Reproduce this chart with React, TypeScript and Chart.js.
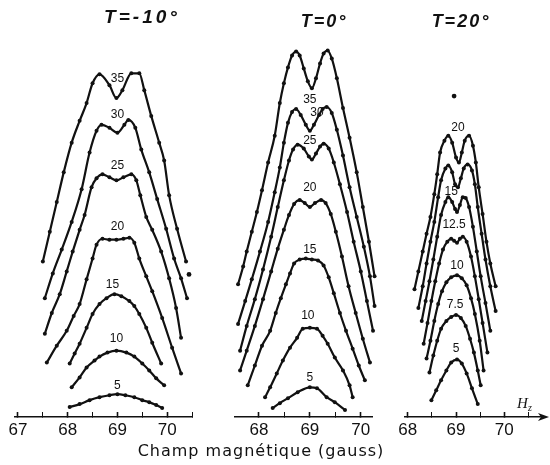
import React, { useEffect, useRef } from 'react';
import { Chart, registerables } from 'chart.js';

Chart.register(...registerables);

// ---------- T = -10° (field in gauss, signal in arbitrary stacked units) ----------
const A35_H = [67.50, 67.64, 67.78, 67.92, 68.08, 68.24, 68.38, 68.50, 68.64, 68.84, 68.98, 69.10, 69.28, 69.44, 69.54, 69.68, 69.84, 69.94, 70.04, 70.20, 70.38];
const A35_V = [157, 187, 217, 247, 277, 299, 317, 337, 346, 335, 322, 330, 347, 347, 330, 304, 277, 259, 224, 190, 157];
const A30_H = [67.54, 67.70, 67.88, 68.08, 68.28, 68.44, 68.58, 68.68, 68.84, 69.00, 69.14, 69.22, 69.36, 69.48, 69.64, 69.80, 69.98, 70.14, 70.28, 70.40];
const A30_V = [120, 145, 169, 197, 230, 267, 289, 295, 292, 287, 295, 300, 292, 270, 247, 220, 190, 160, 140, 120];
const A25_H = [67.54, 67.68, 67.84, 67.98, 68.10, 68.24, 68.34, 68.48, 68.58, 68.70, 68.84, 68.98, 69.12, 69.28, 69.38, 69.46, 69.58, 69.70, 69.88, 70.04, 70.18, 70.28];
const A25_V = [84, 105, 124, 147, 167, 189, 204, 232, 241, 245, 242, 239, 242, 245, 239, 224, 202, 189, 167, 140, 110, 80];
const A20_H = [67.58, 67.78, 67.98, 68.12, 68.24, 68.38, 68.50, 68.58, 68.70, 68.84, 68.98, 69.12, 69.24, 69.34, 69.44, 69.58, 69.70, 69.90, 70.10, 70.28];
const A20_V = [55, 72, 87, 102, 114, 139, 160, 174, 180, 179, 179, 180, 181, 176, 160, 142, 127, 100, 70, 44];
const A15_H = [68.04, 68.14, 68.24, 68.38, 68.50, 68.64, 68.78, 68.94, 69.08, 69.24, 69.34, 69.44, 69.58, 69.70, 69.88];
const A15_V = [54, 64, 74, 90, 104, 114, 120, 124, 122, 117, 112, 104, 90, 75, 54];
const A10_H = [68.08, 68.24, 68.38, 68.54, 68.64, 68.80, 68.98, 69.18, 69.34, 69.50, 69.64, 69.78, 69.94];
const A10_V = [30, 40, 50, 57, 61, 65, 67, 65, 61, 54, 47, 39, 32];
const A5_H = [68.04, 68.24, 68.44, 68.64, 68.84, 69.00, 69.16, 69.34, 69.50, 69.64, 69.78, 69.90];
const A5_V = [10, 13, 17, 20, 22, 23, 22, 20, 17, 15, 12, 9];
const A_LABELS = ['35', '30', '25', '20', '15', '10', '5'];
const A_LABEL_H = [69.00, 69.00, 69.00, 69.00, 68.90, 68.98, 69.00];
const A_LABEL_V = [342, 305, 254, 192, 134, 79, 32];
const A_DOT_H = [70.44];
const A_DOT_V = [144];

// ---------- T = 0° ----------
const B35_H = [67.59, 67.69, 67.76, 67.86, 67.96, 68.06, 68.18, 68.31, 68.41, 68.49, 68.57, 68.65, 68.73, 68.80, 68.88, 68.96, 69.04, 69.12, 69.20, 69.27, 69.35, 69.43, 69.53, 69.65, 69.78, 69.92, 70.04, 70.16, 70.27];
const B35_V = [134, 152, 167, 187, 207, 229, 257, 284, 317, 337, 353, 365, 369, 365, 352, 339, 332, 342, 357, 367, 370, 362, 342, 312, 282, 247, 212, 177, 142];
const B30_H = [67.59, 67.73, 67.86, 68.02, 68.18, 68.31, 68.41, 68.49, 68.57, 68.65, 68.73, 68.82, 68.92, 69.00, 69.08, 69.18, 69.25, 69.33, 69.43, 69.53, 69.65, 69.78, 69.92, 70.06, 70.18, 70.27];
const B30_V = [94, 117, 139, 167, 197, 227, 252, 277, 297, 308, 311, 305, 295, 289, 295, 305, 311, 313, 307, 290, 264, 232, 202, 172, 142, 112];
const B25_H = [67.63, 67.76, 67.92, 68.08, 68.24, 68.37, 68.49, 68.59, 68.67, 68.76, 68.88, 68.98, 69.04, 69.12, 69.20, 69.27, 69.37, 69.47, 69.59, 69.73, 69.86, 70.00, 70.12, 70.24];
const B25_V = [67, 92, 119, 149, 182, 212, 239, 259, 270, 275, 271, 263, 260, 266, 273, 276, 271, 257, 235, 207, 177, 147, 117, 87];
const B20_H = [67.63, 67.76, 67.92, 68.08, 68.24, 68.37, 68.49, 68.59, 68.69, 68.80, 68.90, 69.00, 69.10, 69.22, 69.31, 69.41, 69.51, 69.63, 69.76, 69.90, 70.04, 70.18];
const B20_V = [47, 67, 92, 119, 147, 170, 189, 204, 215, 219, 216, 212, 216, 219, 216, 205, 187, 162, 132, 105, 79, 55];
const B15_H = [67.78, 67.92, 68.06, 68.22, 68.33, 68.43, 68.53, 68.61, 68.69, 68.80, 68.92, 69.04, 69.16, 69.27, 69.37, 69.47, 69.59, 69.71, 69.84, 69.96, 70.08];
const B15_V = [32, 52, 72, 87, 105, 120, 134, 145, 155, 159, 160, 159, 158, 153, 141, 125, 105, 87, 69, 52, 37];
const B10_H = [68.12, 68.22, 68.35, 68.47, 68.61, 68.75, 68.86, 69.00, 69.14, 69.25, 69.35, 69.49, 69.65, 69.78, 69.84];
const B10_V = [20, 30, 44, 57, 70, 80, 89, 90, 89, 82, 74, 60, 47, 32, 20];
const B5_H = [68.27, 68.41, 68.57, 68.76, 69.00, 69.14, 69.33, 69.49, 69.69];
const B5_V = [9, 14, 19, 25, 30, 29, 20, 15, 7];
const B_LABELS = ['35', '30', '25', '20', '15', '10', '5'];
const B_LABEL_H = [69.00, 69.14, 69.00, 69.00, 69.00, 68.96, 69.00];
const B_LABEL_V = [320, 307, 279, 232, 169, 102, 40];
const B_DOT_H: number[] = [];
const B_DOT_V: number[] = [];

// ---------- T = 20° ----------
const C20_H = [68.14, 68.22, 68.31, 68.39, 68.47, 68.55, 68.61, 68.67, 68.76, 68.84, 68.92, 69.00, 69.06, 69.12, 69.18, 69.27, 69.35, 69.41, 69.47, 69.55, 69.63, 69.71, 69.82];
const C20_V = [129, 147, 167, 185, 202, 225, 245, 267, 279, 284, 277, 262, 257, 267, 279, 284, 274, 257, 232, 205, 177, 155, 132];
const C17_H = [68.22, 68.31, 68.39, 68.47, 68.55, 68.63, 68.69, 68.78, 68.84, 68.92, 68.98, 69.04, 69.10, 69.16, 69.24, 69.33, 69.39, 69.45, 69.53, 69.61, 69.71, 69.82];
const C17_V = [110, 132, 155, 177, 197, 222, 239, 251, 254, 247, 235, 232, 241, 251, 255, 249, 235, 212, 185, 159, 132, 107];
const C15_H = [68.29, 68.37, 68.45, 68.53, 68.61, 68.69, 68.78, 68.84, 68.92, 68.98, 69.02, 69.08, 69.14, 69.20, 69.27, 69.35, 69.43, 69.51, 69.61, 69.71];
const C15_V = [97, 117, 137, 159, 182, 204, 217, 222, 217, 210, 207, 214, 222, 221, 212, 192, 167, 142, 115, 87];
const C12_H = [68.33, 68.41, 68.49, 68.57, 68.65, 68.73, 68.82, 68.90, 68.96, 69.02, 69.08, 69.14, 69.22, 69.31, 69.39, 69.47, 69.55, 69.65];
const C12_V = [74, 95, 117, 137, 155, 169, 177, 180, 178, 176, 180, 182, 177, 162, 142, 119, 95, 65];
const C10_H = [68.39, 68.47, 68.55, 68.63, 68.71, 68.80, 68.90, 69.02, 69.12, 69.22, 69.31, 69.39, 69.49, 69.57];
const C10_V = [59, 77, 97, 114, 127, 136, 141, 143, 140, 133, 120, 104, 77, 47];
const C7_H = [68.45, 68.53, 68.61, 68.69, 68.80, 68.90, 69.00, 69.10, 69.20, 69.29, 69.37, 69.45, 69.51];
const C7_V = [45, 62, 77, 89, 97, 101, 103, 100, 92, 79, 65, 47, 32];
const C5_H = [68.49, 68.59, 68.69, 68.80, 68.90, 69.02, 69.12, 69.22, 69.33, 69.45];
const C5_V = [17, 27, 37, 47, 55, 58, 54, 44, 29, 13];
const C_LABELS = ['20', '15', '12.5', '10', '7.5', '5'];
const C_LABEL_H = [69.04, 68.90, 68.96, 69.02, 68.98, 69.00];
const C_LABEL_V = [292, 227, 194, 153, 113, 69];
const C_DOT_H = [68.96];
const C_DOT_V = [324];

// axis ranges (gauss)
const A_RANGE = [66.94, 70.5];
const B_RANGE = [67.53, 70.22];
const C_RANGE = [67.94, 70.78];
const SIGNAL_MAX = 417;

// ---------- layout / style ----------
const INK = '#111111';
const CANVAS_H = 465;
const AXIS_BAND = 48;

type Panel = {
  left: number; width: number; padLeft: number; padRight: number;
  range: number[];
  curves: { h: number[]; v: number[] }[];
  dotH: number[]; dotV: number[];
  labels: string[]; labelH: number[]; labelV: number[];
  arrow: boolean;
};

const PANELS: Panel[] = [
  {
    left: 0, width: 200, padLeft: 15, padRight: 7, range: A_RANGE,
    curves: [
      { h: A35_H, v: A35_V }, { h: A30_H, v: A30_V }, { h: A25_H, v: A25_V }, { h: A20_H, v: A20_V },
      { h: A15_H, v: A15_V }, { h: A10_H, v: A10_V }, { h: A5_H, v: A5_V },
    ],
    dotH: A_DOT_H, dotV: A_DOT_V, labels: A_LABELS, labelH: A_LABEL_H, labelV: A_LABEL_V, arrow: false,
  },
  {
    left: 200, width: 190, padLeft: 35, padRight: 18, range: B_RANGE,
    curves: [
      { h: B35_H, v: B35_V }, { h: B30_H, v: B30_V }, { h: B25_H, v: B25_V }, { h: B20_H, v: B20_V },
      { h: B15_H, v: B15_V }, { h: B10_H, v: B10_V }, { h: B5_H, v: B5_V },
    ],
    dotH: B_DOT_H, dotV: B_DOT_V, labels: B_LABELS, labelH: B_LABEL_H, labelV: B_LABEL_V, arrow: false,
  },
  {
    left: 390, width: 160, padLeft: 13, padRight: 8, range: C_RANGE,
    curves: [
      { h: C20_H, v: C20_V }, { h: C17_H, v: C17_V }, { h: C15_H, v: C15_V }, { h: C12_H, v: C12_V },
      { h: C10_H, v: C10_V }, { h: C7_H, v: C7_V }, { h: C5_H, v: C5_V },
    ],
    dotH: C_DOT_H, dotV: C_DOT_V, labels: C_LABELS, labelH: C_LABEL_H, labelV: C_LABEL_V, arrow: true,
  },
];

const isInt = (v: number) => Math.abs(v - Math.round(v)) < 1e-6;

function decorPlugin(panel: Panel) {
  return {
    id: 'panelDecor',
    afterDatasetsDraw(chart: any) {
      const ctx = chart.ctx as CanvasRenderingContext2D;
      const x = chart.scales.x;
      const y = chart.scales.y;
      ctx.save();
      ctx.fillStyle = INK;
      ctx.font = '12px "Liberation Sans", Arial, sans-serif';
      ctx.textAlign = 'center';
      ctx.textBaseline = 'middle';
      panel.labels.forEach((t, i) => {
        ctx.fillText(t, x.getPixelForValue(panel.labelH[i]), y.getPixelForValue(panel.labelV[i]));
      });
      if (panel.arrow) {
        const yb = chart.chartArea.bottom;
        const xr = chart.chartArea.right;
        const end = chart.width - 1;
        ctx.strokeStyle = INK;
        ctx.lineWidth = 1.6;
        ctx.beginPath();
        ctx.moveTo(xr, yb);
        ctx.lineTo(end - 4, yb);
        ctx.stroke();
        ctx.beginPath();
        ctx.moveTo(end, yb);
        ctx.lineTo(end - 11, yb - 4);
        ctx.lineTo(end - 8, yb);
        ctx.lineTo(end - 11, yb + 4);
        ctx.closePath();
        ctx.fill();
        ctx.textAlign = 'left';
        ctx.textBaseline = 'alphabetic';
        ctx.font = 'italic 15px "Liberation Serif", serif';
        ctx.fillText('H', xr - 25, yb - 9);
        ctx.font = 'italic 10px "Liberation Serif", serif';
        ctx.fillText('z', xr - 14, yb - 6);
      }
      ctx.restore();
    },
  };
}

function PanelChart({ panel }: { panel: Panel }) {
  const ref = useRef<HTMLCanvasElement>(null);
  useEffect(() => {
    if (!ref.current) return;
    const lineSets = panel.curves.map((c) => ({
      data: c.h.map((h, i) => ({ x: h, y: c.v[i] })),
      borderColor: INK,
      borderWidth: 2.2,
      pointRadius: 2,
      pointBackgroundColor: INK,
      pointBorderWidth: 0,
      cubicInterpolationMode: 'monotone',
      clip: false,
      fill: false,
    }));
    const dotSet = {
      data: panel.dotH.map((h, i) => ({ x: h, y: panel.dotV[i] })),
      showLine: false,
      pointRadius: 2.4,
      pointBackgroundColor: INK,
      pointBorderWidth: 0,
      clip: false,
    };
    const chart = new Chart(ref.current, {
      type: 'line',
      data: { datasets: [...lineSets, dotSet] as any },
      options: {
        animation: false,
        responsive: false,
        devicePixelRatio: 1,
        events: [],
        layout: { padding: { left: panel.padLeft, right: panel.padRight, top: 0, bottom: 0 } },
        plugins: { legend: { display: false }, tooltip: { enabled: false }, title: { display: false } },
        scales: {
          x: {
            type: 'linear',
            min: panel.range[0],
            max: panel.range[1],
            afterFit: (s: any) => { s.height = AXIS_BAND; },
            border: { display: true, color: INK, width: 1.6 },
            grid: {
              drawOnChartArea: false,
              drawTicks: true,
              tickLength: -5,
              tickColor: INK,
              tickWidth: (c: any) => (c.tick && isInt(c.tick.value) ? 1.6 : 1),
            },
            ticks: {
              stepSize: 0.5,
              includeBounds: false,
              autoSkip: false,
              maxRotation: 0,
              padding: 8,
              color: INK,
              font: { family: '"Liberation Sans", Arial, sans-serif', size: 17 },
              callback: (v: any) => (isInt(Number(v)) ? String(Math.round(Number(v))) : ''),
            },
          },
          y: { type: 'linear', display: false, min: 0, max: SIGNAL_MAX },
        },
      } as any,
      plugins: [decorPlugin(panel)],
    });
    return () => chart.destroy();
  }, [panel]);
  return (
    <canvas
      ref={ref}
      width={panel.width}
      height={CANVAS_H}
      style={{ position: 'absolute', left: panel.left, top: 0, width: panel.width, height: CANVAS_H }}
    />
  );
}

const titleStyle = (cx: number, cy: number, size: number, spacing: number): React.CSSProperties => ({
  position: 'absolute',
  left: cx - 60,
  top: cy - 12,
  width: 120,
  height: 24,
  lineHeight: '24px',
  textAlign: 'center',
  font: `italic bold ${size}px "Liberation Sans", Arial, sans-serif`,
  letterSpacing: `${spacing}px`,
  color: INK,
});

export default function App() {
  return (
    <div style={{ position: 'absolute', left: 0, top: 0, width: 550, height: 465, background: '#fff', overflow: 'hidden' }}>
      {PANELS.map((p, i) => (
        <PanelChart key={i} panel={p} />
      ))}
      <div style={titleStyle(142, 18, 19, 3)}>T=-10°</div>
      <div style={titleStyle(324, 23, 18, 2)}>T=0°</div>
      <div style={titleStyle(461, 23, 18, 2)}>T=20°</div>
      <div
        style={{
          position: 'absolute',
          left: 61,
          top: 441,
          width: 400,
          height: 22,
          lineHeight: '22px',
          textAlign: 'center',
          font: '16px "DejaVu Sans", sans-serif',
          letterSpacing: '1px',
          color: INK,
        }}
      >
        Champ magnétique (gauss)
      </div>
    </div>
  );
}
